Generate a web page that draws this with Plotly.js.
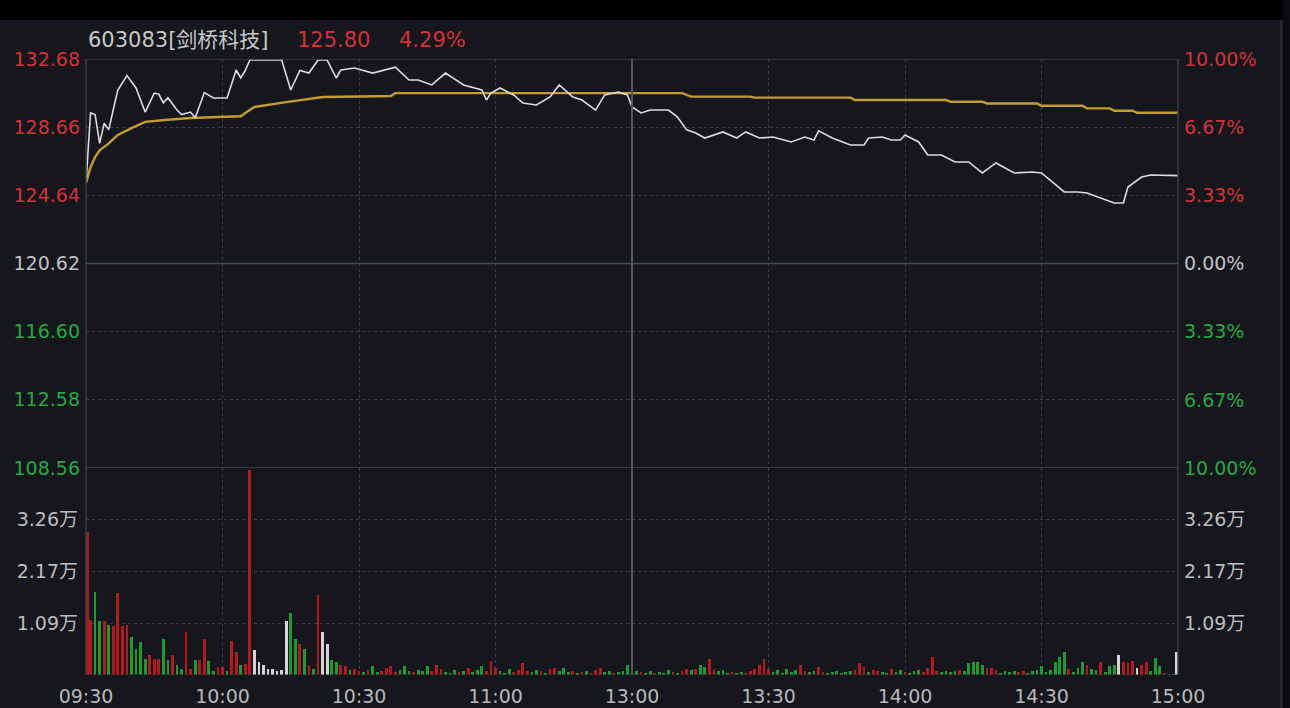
<!DOCTYPE html>
<html>
<head>
<meta charset="utf-8">
<script src="https://cdn.plot.ly/plotly-3.0.1.min.js"></script>
<style>
html,body{margin:0;padding:0;background:#15171c;overflow:hidden;}
#chart{width:1290px;height:708px;}
</style>
</head>
<body>
<div id="chart"></div>
<script>
// ---------- data ----------
const stockCode = "603083[剑桥科技]";
const lastPrice = "125.80";
const changePct = "4.29%";
const prevClose = 120.62;

// time axis (minute index from 09:30, lunch break removed)
const timeTickVals = [0, 30, 60, 90, 120, 150, 180, 210, 240];
const timeTickText = ["09:30", "10:00", "10:30", "11:00", "13:00", "13:30", "14:00", "14:30", "15:00"];

// price axis
const priceTickVals = [108.56, 112.58, 116.60, 120.62, 124.64, 128.66, 132.68];
const priceTickText = ["108.56", "112.58", "116.60", "120.62", "124.64", "128.66", "132.68"];
const pctTickVals = [-10, -6.67, -3.33, 0, 3.33, 6.67, 10];
const pctTickText = ["10.00%", "6.67%", "3.33%", "0.00%", "3.33%", "6.67%", "10.00%"];

// volume axis (万)
const volMax = 4.35;
const volTickVals = [1.0875, 2.175, 3.2625];
const volTickText = ["1.09万", "2.17万", "3.26万"];

// price line (minute, price)
const priceMin = [0,1,2,3,4,5,6,7,9,11,13,15,16,17,18,20,21,23,24,26,28,31,33,34,35,36,43,45,47,49,51,53,55,56,59,63,68,71,73,76,79,83,87,88,89,91,94,96,99,102,104,107,109,112,114,117,119,120,122,124,128,130,132,134,136,140,143,145,148,151,155,158,160,161,164,168,171,172,175,177,179,180,183,185,188,191,194,197,200,204,208,210,215,218,220,223,226,228,229,232,234,240];
const priceVal = [125.37,129.5,129.4,127.7,128.9,128.5,129.7,130.85,131.7,130.97,129.55,130.67,130.6,130.1,130.4,129.67,129.4,129.55,129.2,130.7,130.38,130.38,132.03,131.56,132.0,132.62,132.62,130.85,132.0,131.85,132.62,132.62,131.56,132.03,132.15,131.85,132.2,131.44,131.44,131.15,131.85,131.15,130.85,130.26,130.67,130.97,130.56,130.08,129.97,130.44,131.15,130.44,130.26,129.67,130.56,130.73,130.56,129.85,129.5,129.67,129.67,129.26,128.5,128.32,128.02,128.38,128.02,128.38,128.02,128.08,127.79,128.08,127.9,128.44,128.02,127.61,127.61,128.02,128.08,127.9,127.9,128.2,127.79,127.02,127.02,126.61,126.61,125.96,126.55,125.96,126.02,125.96,124.84,124.84,124.78,124.48,124.19,124.19,125.13,125.72,125.84,125.80];

// average price line (minute, price)
const avgMin = [0,1,2,3,5,7,10,13,18,23,29,34,35,37,44,52,60,67,68,131,133,146,147,168,169,189,190,197,198,209,210,219,220,225,226,230,231,240];
const avgVal = [125.37,126.3,126.9,127.3,127.7,128.2,128.6,128.97,129.1,129.2,129.26,129.3,129.5,129.85,130.14,130.44,130.47,130.5,130.67,130.67,130.46,130.46,130.40,130.40,130.26,130.26,130.16,130.16,130.06,130.06,129.92,129.92,129.77,129.77,129.63,129.63,129.51,129.51];

// volume per minute (万), index = minute 0..240
const volVal = [
3.01,1.16,1.75,1.13,1.13,1.06,1.02,1.72,1.02,1.06,
0.79,0.55,0.69,0.34,0.41,0.34,0.34,0.76,0.31,0.41,
0.20,0.12,0.90,0.12,0.31,0.31,0.76,0.30,0.08,0.17,
0.17,0.08,0.72,0.48,0.20,0.24,4.31,0.52,0.27,0.20,
0.12,0.12,0.08,0.10,1.13,1.31,0.76,0.66,0.55,0.20,
0.12,1.69,0.90,0.66,0.31,0.28,0.20,0.18,0.10,0.12,
0.08,0.06,0.10,0.18,0.06,0.08,0.15,0.18,0.06,0.10,
0.18,0.08,0.06,0.10,0.08,0.18,0.08,0.22,0.12,0.06,
0.05,0.10,0.06,0.08,0.15,0.06,0.10,0.18,0.08,0.30,
0.14,0.08,0.05,0.12,0.06,0.10,0.25,0.08,0.06,0.10,
0.08,0.05,0.12,0.15,0.08,0.15,0.06,0.08,0.05,0.06,
0.08,0.05,0.10,0.14,0.06,0.08,0.05,0.06,0.08,0.22,
0.20,0.08,0.06,0.05,0.08,0.05,0.06,0.05,0.10,0.06,
0.05,0.08,0.12,0.10,0.12,0.20,0.16,0.34,0.12,0.08,
0.10,0.05,0.06,0.05,0.06,0.05,0.08,0.12,0.20,0.34,
0.12,0.06,0.10,0.05,0.12,0.06,0.10,0.22,0.08,0.06,
0.08,0.16,0.06,0.05,0.06,0.08,0.05,0.06,0.08,0.10,
0.25,0.16,0.06,0.10,0.08,0.06,0.05,0.12,0.06,0.10,
0.06,0.05,0.08,0.10,0.06,0.15,0.38,0.08,0.06,0.08,
0.06,0.08,0.10,0.08,0.25,0.28,0.28,0.22,0.14,0.15,
0.10,0.05,0.08,0.06,0.08,0.06,0.08,0.05,0.08,0.10,
0.18,0.06,0.10,0.28,0.38,0.49,0.12,0.06,0.15,0.28,
0.22,0.12,0.10,0.28,0.06,0.18,0.22,0.42,0.28,0.25,
0.30,0.15,0.22,0.28,0.08,0.35,0.18,0.05,0.03,0.03,
0.49];
// r = up (red), g = down (green), w = unchanged (white); one letter per minute
const volDirRows = [
"rrggrgrrrr","ggggrrrggr","ggrrgrrggr","rgrrgrrwww","wwwwwggrgr",
"grwwggrrgr","rgrggrrrrg","ggrgggrrrg","ggrgrgggrr","rgggrrrrgg",
"rgrrgggrgr","grrrggrggg","ggrggrgggr","grrgrggrrg","ggrggrrrrr",
"rggggggrrg","grrggggggr","rrgrrggrgg","rgggrrrrgg","ggrgggggrr",
"rggggrrggg","ggggggrggg","rggrgggwrr","rwrrgggrgg","w"
];
</script>
<script>
// ---------- build ----------
const RED = "#d3323a", GREEN = "#27a844", GREY = "#c2c2c2";
const barColorMap = {r: "#b3191f", g: "#1e9a33", w: "#d4d4d4"};
const volDir = volDirRows.join("").split("");
const volMin = volVal.map((v, i) => i);
const volColors = volVal.map((v, i) => barColorMap[volDir[i]] || barColorMap.g);
const BAR_W = 0.6;
// keep the first and last bar inside the frame
const barOffsets = volMin.map((m, i) => i === 0 ? 0.05 : (i === volMin.length - 1 ? -BAR_W - 0.05 : -BAR_W / 2));

function colored(txt, c) { return '<span style="color:' + c + '">' + txt + '</span>'; }
const priceTickColored = priceTickText.map((t, i) => colored(t, priceTickVals[i] > prevClose + 0.01 ? RED : (priceTickVals[i] < prevClose - 0.01 ? GREEN : GREY)));
const pctTickColored = pctTickText.map((t, i) => colored(t, pctTickVals[i] > 0 ? RED : (pctTickVals[i] < 0 ? GREEN : GREY)));

const FONT = "DejaVu Sans, Noto Sans CJK SC, sans-serif";
const GRID = "#3a3d44";
const BORDER = "#3b3e45";

const traces = [
  {type: "bar", x: volMin, y: volVal, xaxis: "x", yaxis: "y3", width: BAR_W, offset: barOffsets,
   marker: {color: volColors, line: {width: 0}}, hoverinfo: "skip", showlegend: false},
  {type: "scatter", mode: "lines", x: avgMin, y: avgVal, xaxis: "x", yaxis: "y",
   line: {color: "#c49d30", width: 2.4}, hoverinfo: "skip", showlegend: false},
  {type: "scatter", mode: "lines", x: priceMin, y: priceVal, xaxis: "x", yaxis: "y",
   line: {color: "#dcdcdc", width: 1.6}, hoverinfo: "skip", showlegend: false},
  {type: "scatter", mode: "lines", x: [0, 240], y: [-10, 10], xaxis: "x", yaxis: "y2",
   line: {width: 0}, opacity: 0, hoverinfo: "skip", showlegend: false},
  {type: "scatter", mode: "lines", x: [0, 240], y: [0, volMax], xaxis: "x", yaxis: "y4",
   line: {width: 0}, opacity: 0, hoverinfo: "skip", showlegend: false}
];

const volTop = 207 / 616;
const layout = {
  width: 1290, height: 708,
  margin: {l: 86, r: 112, t: 59, b: 33, pad: 0},
  paper_bgcolor: "#15171c", plot_bgcolor: "#15171c",
  showlegend: false, bargap: 0,
  font: {family: FONT, size: 19, color: GREY},
  xaxis: {domain: [0, 1], range: [0, 240], anchor: "y3", tickvals: timeTickVals, ticktext: timeTickText,
          showgrid: true, gridcolor: GRID, griddash: "dot", gridwidth: 1, zeroline: false, showline: false,
          ticks: "", ticklabelstandoff: 8, tickfont: {family: FONT, size: 19, color: "#b8b8b8"}, fixedrange: true},
  yaxis: {domain: [volTop, 1], range: [108.56, 132.68], anchor: "x", tickvals: priceTickVals, ticktext: priceTickColored,
          showgrid: true, gridcolor: GRID, griddash: "dot", zeroline: false, showline: false, ticks: "",
          ticklabelstandoff: 5, tickfont: {family: FONT, size: 19}, fixedrange: true},
  yaxis2: {overlaying: "y", side: "right", range: [-10, 10], anchor: "x", tickvals: pctTickVals, ticktext: pctTickColored,
           showgrid: false, zeroline: false, showline: false, ticks: "", ticklabelstandoff: 5,
           tickfont: {family: FONT, size: 19}, fixedrange: true},
  yaxis3: {domain: [0, volTop], range: [0, volMax], anchor: "x", tickvals: volTickVals, ticktext: volTickText,
           showgrid: true, gridcolor: GRID, griddash: "dot", zeroline: false, showline: false, ticks: "",
           ticklabelstandoff: 7, tickfont: {family: FONT, size: 19, color: "#bdbdbd"}, fixedrange: true},
  yaxis4: {overlaying: "y3", side: "right", range: [0, volMax], anchor: "x", tickvals: volTickVals, ticktext: volTickText,
           showgrid: false, zeroline: false, showline: false, ticks: "", ticklabelstandoff: 5,
           tickfont: {family: FONT, size: 19, color: "#bdbdbd"}, fixedrange: true},
  shapes: [
    // top black band & right edge
    {type: "rect", xref: "paper", yref: "paper", x0: -0.2, x1: 1.3, y0: 1.0633, y1: 1.3, fillcolor: "#000000", line: {width: 0}, layer: "below"},
    {type: "rect", xref: "paper", yref: "paper", x0: 1.0962, x1: 1.3, y0: -0.2, y1: 1.3, fillcolor: "#0c0d10", line: {width: 0}, layer: "below"},
    {type: "line", xref: "paper", yref: "paper", x0: 1.0945, x1: 1.0945, y0: -0.06, y1: 1.0633, line: {color: "#2c2e34", width: 2}},
    // borders
    {type: "line", xref: "paper", yref: "paper", x0: 0, x1: 0, y0: 0, y1: 1, line: {color: BORDER, width: 1.5}},
    {type: "line", xref: "paper", yref: "paper", x0: 1, x1: 1, y0: 0, y1: 1, line: {color: BORDER, width: 1.5}},
    {type: "line", xref: "paper", yref: "y", x0: 0, x1: 1, y0: 132.68, y1: 132.68, line: {color: BORDER, width: 1.5}},
    {type: "line", xref: "paper", yref: "y", x0: 0, x1: 1, y0: prevClose, y1: prevClose, line: {color: "#44474e", width: 1.5}},
    {type: "line", xref: "paper", yref: "y", x0: 0, x1: 1, y0: 108.56, y1: 108.56, line: {color: "#44474e", width: 1.5}},
    {type: "line", xref: "paper", yref: "y3", x0: 0, x1: 1, y0: 0, y1: 0, line: {color: "#2c2e34", width: 1}},
    // 13:00 separator
    {type: "line", xref: "x", yref: "paper", x0: 120, x1: 120, y0: 0, y1: 1, line: {color: "#54575d", width: 2}}
  ],
  annotations: [
    {xref: "paper", yref: "paper", x: 0.0, y: 1.0308, xanchor: "left", yanchor: "middle", showarrow: false,
     text: stockCode, font: {family: FONT, size: 21, color: "#c8c8c8"}},
    {xref: "paper", yref: "paper", x: 0.1914, y: 1.0308, xanchor: "left", yanchor: "middle", showarrow: false,
     text: lastPrice, font: {family: FONT, size: 21, color: RED}},
    {xref: "paper", yref: "paper", x: 0.2848, y: 1.0308, xanchor: "left", yanchor: "middle", showarrow: false,
     text: changePct, font: {family: FONT, size: 21, color: RED}}
  ]
};

Plotly.newPlot("chart", traces, layout, {displayModeBar: false, staticPlot: true});
</script>
</body>
</html>
